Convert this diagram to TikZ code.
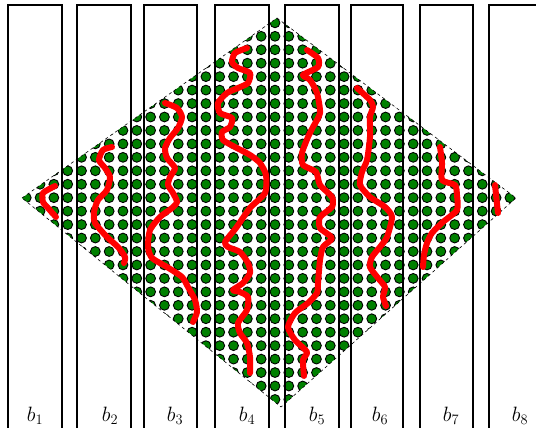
\documentclass[tikz,border=0pt]{standalone}
\usepackage{tikz}
\usetikzlibrary{calc}
\definecolor{dotgreen}{HTML}{008000}
\definecolor{walkred}{HTML}{FF0000}

\begin{document}
\begin{tikzpicture}[
    x=1pt, y=-1pt,
    bar/.style={draw, line width=1.2pt},
    dot/.style={draw=black, fill=dotgreen, line width=0.9pt},
    rim/.style={draw, dashed, line width=0.6pt},
    walk/.style={draw=walkred, line width=6pt, line cap=round, line join=round},
    lbl/.style={anchor=base, font=\fontsize{22}{26}\selectfont},
]
\useasboundingbox (0,0) rectangle (536,428);
\clip (0,0) rectangle (536,428);

\coordinate (L) at (22,198);
\coordinate (T) at (277,18);
\coordinate (R) at (516,198);
\coordinate (B) at (281,407);

% Dot lattice
\begin{scope}
  \clip (L) -- (T) -- (R) -- (B) -- cycle;
  \foreach \i in {-18,...,17} {
    \foreach \j in {-13,...,15} {
      \path[dot] (275+13.82*\i, 197.7+13.45*\j) circle (4.9pt);
    }
  }
\end{scope}
\draw[rim] (L) -- (T) -- (R) -- (B) -- cycle;

% Bars
\foreach \l/\r/\x [count=\n] in {8/62/35, 77/131/110, 144/197/175, 215/269/247, 285/339/317, 351/403/380, 420/473/451, 489/543/520} {
    \draw[bar] (\l,5) rectangle (\r,440);
    \node[lbl] (b\n) at (\x,421) {$b_{\n}$};
}

% Walks
\draw[walk] plot[smooth, tension=0.4] coordinates {(55,186) (43,193) (43,202) (48,208) (56,217)};
\draw[walk] plot[smooth, tension=0.4] coordinates {(112,147) (103,150) (99,160) (105,168) (110,177) (107,190) (98,200) (94,212) (95,223) (107,237) (118,247) (125,257) (124,263)};
\draw[walk] plot[smooth, tension=0.4] coordinates {(165,103) (177,108) (182,117) (178,128) (170,138) (165,148) (167,158) (175,168) (170,177) (168,185) (173,193) (177,202) (172,208) (160,217) (150,230) (148,247) (152,258) (167,267) (182,277) (188,287) (195,300) (197,312) (193,322)};
\draw[walk] plot[smooth, tension=0.4] coordinates {(247,48) (235,53) (232,62) (238,68) (250,73) (248,83) (238,88) (227,93) (218,103) (220,113) (232,118) (230,127) (222,132) (223,140) (235,147) (250,155) (260,163) (266,175) (265,193) (250,208) (236,228) (225,242) (228,247) (240,252) (248,263) (250,273) (243,283) (233,290) (240,292) (248,297) (247,310) (238,323) (240,333) (247,343) (250,357) (250,373)};
\draw[walk] plot[smooth, tension=0.4] coordinates {(307,50) (318,58) (318,67) (303,75) (310,80) (317,93) (320,113) (313,127) (308,137) (302,153) (303,165) (316,172) (320,185) (332,197) (332,207) (320,217) (320,228) (332,238) (323,247) (320,260) (318,283) (317,293) (308,303) (295,313) (288,327) (295,340) (307,352) (303,360) (304,376)};
\draw[walk] plot[smooth, tension=0.4] coordinates {(357,88) (370,100) (373,107) (370,117) (370,137) (367,160) (362,172) (360,185) (370,197) (385,207) (392,217) (387,237) (380,247) (372,257) (370,267) (378,278) (385,287) (383,297) (386,306)};
\draw[walk] plot[smooth, tension=0.4] coordinates {(440,147) (442,163) (442,180) (455,185) (457,195) (457,210) (443,222) (432,233) (427,243) (424,255) (423,267)};
\draw[walk] (495,185) -- (498,213);

\end{tikzpicture}
\end{document}
